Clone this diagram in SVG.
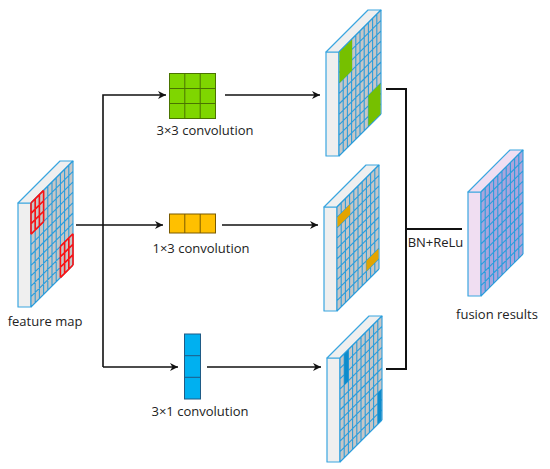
<svg xmlns="http://www.w3.org/2000/svg" xmlns:xlink="http://www.w3.org/1999/xlink" width="550" height="469" viewBox="0 0 550 469">
<style>
.edge{stroke:#3aa6e0;stroke-width:1.2;stroke-linejoin:round}
.gl{fill:none;stroke:#2a9ddc;stroke-width:1.1}
.red{fill:none;stroke:#ff1010;stroke-width:1.6}
.conn{fill:none;stroke:#111;stroke-width:1.6}
.br{fill:none;stroke:#111;stroke-width:2}
.lbl{font-family:"Open Sans","Noto Sans",sans-serif;font-size:13px;fill:#222;text-anchor:middle}
.kg{stroke:#4a7400;stroke-width:1}
.ko{stroke:#7a5a00;stroke-width:1}
.kb{stroke:#1f5b86;stroke-width:1}
</style>
<defs>
<marker id="ah" viewBox="0 0 10 10" refX="10" refY="5" markerWidth="9" markerHeight="8" markerUnits="userSpaceOnUse" orient="auto">
<path d="M0,0 L10,5 L0,10 L3,5 z" fill="#111"/>
</marker>
<g id="faces">
<rect class="edge" x="-13" y="0" width="13" height="104"/>
<polygon class="edge" points="-13,0 0,0 42,-42 29,-42"/>
</g>
<path id="gridbg" d="M0 0H42V104H0z" fill="currentColor"/>
<path id="gridlines" class="gl" vector-effect="non-scaling-stroke" d="M0 0V104M4.2 0V104M8.4 0V104M12.6 0V104M16.8 0V104M21 0V104M25.2 0V104M29.4 0V104M33.6 0V104M37.8 0V104M42 0V104M0 0H42M0 10.4H42M0 20.8H42M0 31.2H42M0 41.6H42M0 52H42M0 62.4H42M0 72.8H42M0 83.2H42M0 93.6H42M0 104H42"/>
<path id="red3" class="red" vector-effect="non-scaling-stroke" d="M0 0H12.6M0 10.4H12.6M0 20.8H12.6M0 31.2H12.6M0 0V31.2M4.2 0V31.2M8.4 0V31.2M12.6 0V31.2"/>
</defs>

<g id="connectors">
<path class="conn" d="M76,225 H163" marker-end="url(#ah)"/>
<path class="conn" d="M103,367 V95 H166" marker-end="url(#ah)"/>
<path class="conn" d="M103,367 H178" marker-end="url(#ah)"/>
<path class="conn" d="M225,95 H320" marker-end="url(#ah)"/>
<path class="conn" d="M222,225 H318" marker-end="url(#ah)"/>
<path class="conn" d="M207,367 H321" marker-end="url(#ah)"/>
<path class="br" d="M386,89 H406 V369 H386"/>
<path class="br" d="M406,229 H462"/>
<text class="lbl" x="435.5" y="247">BN+ReLu</text>
</g>

<g id="feature-map">
<use href="#faces" fill="#efefef" transform="translate(31,203)"/>
<g transform="matrix(1,-1,0,1,31,203)">
<use href="#gridbg" color="#c6c6c6"/>
<use href="#gridlines"/>
<use href="#red3"/>
<use href="#red3" x="29.4" y="72.8"/>
</g>
<text class="lbl" x="45" y="326">feature map</text>
</g>

<g id="conv3x3">
<rect x="169.5" y="73.5" width="46" height="45" fill="#7fd600" class="kg"/>
<path class="kg" fill="none" d="M184.8,73.5V118.5M200.2,73.5V118.5M169.5,88.5H215.5M169.5,103.5H215.5"/>
<text class="lbl" x="205" y="135">3×3 convolution</text>
</g>

<g id="conv1x3">
<rect x="169.5" y="214" width="46" height="19" fill="#ffc000" class="ko"/>
<path class="ko" fill="none" d="M184.8,214V233M200.2,214V233"/>
<text class="lbl" x="201" y="253">1×3 convolution</text>
</g>

<g id="conv3x1">
<rect x="184.5" y="334" width="16" height="65" fill="#00b0f0" class="kb"/>
<path class="kb" fill="none" d="M184.5,355.7H200.5M184.5,377.3H200.5"/>
<text class="lbl" x="200" y="416">3×1 convolution</text>
</g>

<g id="out-3x3">
<use href="#faces" fill="#efefef" transform="translate(339,52)"/>
<g transform="matrix(1,-1,0,1,339,52)">
<use href="#gridbg" color="#c6c6c6"/>
<use href="#gridlines"/>
<rect x="0.5" y="0.5" width="12.6" height="31" fill="#76c000"/>
<rect x="29.4" y="72.8" width="12.1" height="30.7" fill="#76c000"/>
</g>
</g>

<g id="out-1x3">
<use href="#faces" fill="#efefef" transform="translate(337,207)"/>
<g transform="matrix(1,-1,0,1,337,207)">
<use href="#gridbg" color="#c6c6c6"/>
<use href="#gridlines"/>
<rect x="0.5" y="10.4" width="12.6" height="10.4" fill="#e3a400"/>
<rect x="29.4" y="83.2" width="12.1" height="10.4" fill="#e3a400"/>
</g>
</g>

<g id="out-3x1">
<use href="#faces" fill="#efefef" transform="translate(340,358)"/>
<g transform="matrix(1,-1,0,1,340,358)">
<use href="#gridbg" color="#c6c6c6"/>
<use href="#gridlines"/>
<rect x="4.2" y="0.5" width="4.2" height="31" fill="#0d8ccc"/>
<rect x="37.8" y="72.8" width="3.7" height="30.7" fill="#0d8ccc"/>
</g>
</g>

<g id="fusion">
<use href="#faces" fill="#f0def2" transform="translate(481,192)"/>
<g transform="matrix(1,-1,0,1,481,192)">
<use href="#gridbg" color="#aaa5dc"/>
<use href="#gridlines"/>
</g>
<text class="lbl" x="497" y="319">fusion results</text>
</g>
</svg>
